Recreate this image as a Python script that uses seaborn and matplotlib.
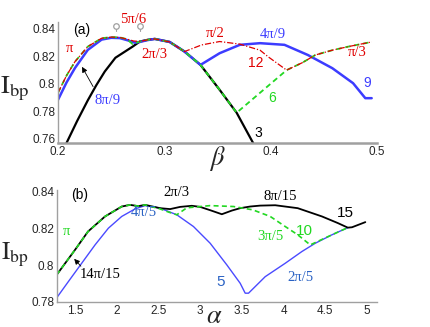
"""
Bipartite order parameter I_bp versus beta (a) and alpha (b).
"""

# =============== IMPORTS ===============
import numpy as np
import matplotlib
matplotlib.use("Agg")
import matplotlib.pyplot as plt
import seaborn as sns


# =============== DATA: PANEL (a) ===============
# curve "3" (black)
beta_3 = [0.208, 0.218, 0.228, 0.236, 0.244, 0.254, 0.262, 0.270, 0.277, 0.284,
          0.291, 0.305, 0.319, 0.334, 0.352, 0.368, 0.3835]
ibp_3 = [0.757, 0.773, 0.788, 0.799, 0.809, 0.819, 0.823, 0.827, 0.8308, 0.8320,
         0.8327, 0.8305, 0.8235, 0.8138, 0.7957, 0.779, 0.757]

# curve "6" (green dashed)
beta_6 = [0.2, 0.208, 0.216, 0.228, 0.241, 0.25, 0.258, 0.265, 0.27, 0.277, 0.284,
          0.291, 0.305, 0.319, 0.334, 0.352, 0.368, 0.415, 0.43, 0.442, 0.458,
          0.473, 0.495]
ibp_6 = [0.7935, 0.806, 0.8162, 0.8271, 0.8332, 0.834, 0.8338, 0.8325, 0.829,
         0.8308, 0.8320, 0.8327, 0.8305, 0.8235, 0.8138, 0.7957, 0.779, 0.810,
         0.8155, 0.821, 0.8245, 0.8271, 0.8305]

# curve "9" (blue)
beta_9 = [0.2, 0.208, 0.216, 0.228, 0.241, 0.25, 0.258, 0.265, 0.272, 0.277, 0.284,
          0.291, 0.305, 0.319, 0.334, 0.352, 0.371, 0.39, 0.413, 0.435, 0.458,
          0.4775, 0.489, 0.495]
ibp_9 = [0.7884, 0.801, 0.8116, 0.8247, 0.8322, 0.8335, 0.8333, 0.8318, 0.8300,
         0.8305, 0.8318, 0.8327, 0.8305, 0.8235, 0.8138, 0.8223, 0.8284, 0.8296,
         0.8284, 0.821, 0.8114, 0.8005, 0.7896, 0.7896]

# curve "12" (red dash-dot)
beta_12 = [0.2, 0.208, 0.216, 0.228, 0.241, 0.25, 0.258, 0.265, 0.271, 0.277, 0.284,
           0.291, 0.305, 0.319, 0.335, 0.352, 0.371, 0.39, 0.398, 0.415, 0.43,
           0.442, 0.458, 0.473, 0.495]
ibp_12 = [0.7935, 0.806, 0.8162, 0.8271, 0.8332, 0.834, 0.8338, 0.8325, 0.8312,
          0.8308, 0.8320, 0.8327, 0.8305, 0.8235, 0.8283, 0.8308, 0.8289, 0.8245,
          0.8195, 0.810, 0.8155, 0.821, 0.8245, 0.8271, 0.8305]

labels_a = ["(a)", "\u03c0", "5\u03c0/6", "2\u03c0/3", "8\u03c0/9", "\u03c0/2", "4\u03c0/9",
            "12", "\u03c0/3", "9", "6", "3"]
labels_a_beta = [0.2225, 0.211, 0.271, 0.291, 0.247, 0.348, 0.402, 0.386, 0.481, 0.491, 0.401, 0.388]
labels_a_ibp = [0.8395, 0.826, 0.8465, 0.821, 0.788, 0.8364, 0.8356, 0.8153, 0.8225, 0.8007, 0.7898, 0.7644]

marks_beta = [0.255, 0.277]


# =============== DATA: PANEL (b) ===============
# curve "15" (black)
alpha_15 = [1.28, 1.5, 1.656, 1.86, 2.06, 2.16, 2.26, 2.34, 2.52, 2.64, 2.76, 2.9, 3.0,
            3.12, 3.26, 3.38, 3.48, 3.6, 3.72, 3.9, 4.17, 4.46, 4.65, 4.77, 4.82, 4.98]
ibp_15 = [0.7948, 0.8084, 0.8184, 0.8266, 0.832, 0.8329, 0.8322, 0.8329, 0.8311, 0.8306,
          0.8318, 0.8324, 0.8318, 0.8300, 0.8278, 0.8298, 0.8311, 0.8320, 0.8325, 0.8327,
          0.8311, 0.8266, 0.823, 0.8205, 0.8207, 0.8235]

# curve "10" (green dashed)
alpha_10 = [1.28, 1.5, 1.656, 1.86, 2.06, 2.16, 2.26, 2.34, 2.52, 2.62, 2.72, 2.84, 3.12,
            3.4, 3.63, 3.84, 4.02, 4.17, 4.32, 4.58, 4.77]
ibp_10 = [0.7948, 0.8084, 0.8184, 0.8266, 0.832, 0.8329, 0.8322, 0.8329, 0.8307, 0.8290,
          0.8275, 0.8313, 0.8325, 0.832, 0.8302, 0.8266, 0.8211, 0.8166, 0.8111, 0.8166,
          0.8205]

# curve "5" (blue)
alpha_5 = [1.26, 1.42, 1.58, 1.74, 1.9, 2.06, 2.22, 2.34, 2.52, 2.72, 2.92, 3.12, 3.32,
           3.48, 3.54, 3.58, 3.72, 3.78, 4.02, 4.22, 4.38, 4.58, 4.77]
ibp_5 = [0.781, 0.7911, 0.8011, 0.8111, 0.8202, 0.8266, 0.8307, 0.8325, 0.8311, 0.8275,
         0.8211, 0.812, 0.8002, 0.7902, 0.7848, 0.7848, 0.7911, 0.7938, 0.8011, 0.8075,
         0.812, 0.8166, 0.8205]

labels_b = ["(b)", "2\u03c0/3", "\u03c0", "4\u03c0/5", "14\u03c0/15", "8\u03c0/15", "15",
            "10", "3\u03c0/5", "5", "2\u03c0/5"]
labels_b_alpha = [1.56, 2.72, 1.40, 2.32, 1.80, 3.96, 4.74, 4.25, 3.84, 3.24, 4.2]
labels_b_ibp = [0.8384, 0.8395, 0.8182, 0.8285, 0.7948, 0.8374, 0.8285, 0.8184, 0.8156, 0.7911, 0.7931]


# =============== STYLE ===============
sns.set_style("white")
plt.rcParams["font.family"] = ["Liberation Sans", "DejaVu Sans"]
plt.rcParams["mathtext.fontset"] = "stix"

RED = "#e00000"
GREEN = "#22d822"
BLUE = "#3c3cff"
BLUE_B = "#4a4aff"
BLUE_TXT = "#2a62c4"
GRAY = "#a0a0a0"
SERIF = ["Liberation Serif", "DejaVu Serif"]
SANS = ["Liberation Sans", "DejaVu Sans"]

fig = plt.figure(figsize=(4.31, 3.27), dpi=100)
ax_a = fig.add_axes([58 / 431, 1 - 143 / 327, 319 / 431, 121 / 327])
ax_b = fig.add_axes([57 / 431, 1 - 302 / 327, 320 / 431, 112 / 327])


def style_axes(ax):
    for side in ["top", "right"]:
        ax.spines[side].set_visible(False)
    ax.spines["left"].set_color(GRAY)
    ax.spines["left"].set_linewidth(1.0)
    ax.spines["bottom"].set_color(GRAY)
    ax.spines["bottom"].set_linewidth(1.8)
    ax.tick_params(which="both", direction="in", color=GRAY, labelsize=8.5, pad=2)
    ax.tick_params(which="major", length=4, width=1)
    ax.tick_params(which="minor", length=2.5, width=1)


# =============== PANEL (a) ===============
ax = ax_a
sns.lineplot(x=beta_3, y=ibp_3, ax=ax, sort=False, estimator=None, color="black", lw=1.6)
sns.lineplot(x=beta_9, y=ibp_9, ax=ax, sort=False, estimator=None, color=BLUE, lw=1.8)
sns.lineplot(x=beta_6, y=ibp_6, ax=ax, sort=False, estimator=None, color=GREEN, lw=1.3,
             linestyle=(0, (3, 2)))
sns.lineplot(x=beta_12, y=ibp_12, ax=ax, sort=False, estimator=None, color=RED, lw=0.9,
             linestyle=(0, (5, 1.5, 1, 1.5)))

for bx in marks_beta:
    ax.plot([bx, bx], [0.8385, 0.8408], color=GRAY, lw=0.8, clip_on=False)
    ax.plot([bx], [0.8418], marker="o", ms=4, mfc="white", mec=GRAY, mew=0.9, clip_on=False)

ax.annotate("", xy=(0.2226, 0.8124), xytext=(0.233, 0.798),
            arrowprops=dict(arrowstyle="-|>", color="black", lw=0.6, mutation_scale=8,
                            shrinkA=0, shrinkB=0))

colors_a = ["black", RED, RED, RED, BLUE, RED, BLUE, RED, RED, BLUE, GREEN, "black"]
for txt, bx, iy, c in zip(labels_a, labels_a_beta, labels_a_ibp, colors_a):
    fam = SANS if (txt[0].isdigit() and "\u03c0" not in txt) or txt.startswith("(") else SERIF
    size = 10 if fam is SANS else 10.5
    if txt.startswith("("):
        size = 10
    ax.text(bx, iy, txt, color=c, ha="center", va="center", family=fam, fontsize=size,
            clip_on=False)

ax.set_xlim(0.2, 0.5)
ax.set_ylim(0.757, 0.845)
ax.set_xticks([0.2, 0.3, 0.4, 0.5])
ax.set_xticklabels(["0.2", "0.3", "0.4", "0.5"])
ax.set_xticks(np.arange(0.2, 0.5, 0.025), minor=True)
ax.set_yticks([0.76, 0.78, 0.8, 0.82, 0.84])
ax.set_yticklabels(["0.76", "0.78", "0.8", "0.82", "0.84"])
style_axes(ax)
ax.set_xlabel(r"$\beta$", fontsize=19, va="center")
ax.xaxis.set_label_coords(0.5, -0.13)
ax.set_ylabel(r"$\mathrm{I}_{\mathrm{bp}}$", fontsize=19, rotation=0, va="center", ha="center")
ax.yaxis.set_label_coords(-0.135, 0.45)


# =============== PANEL (b) ===============
ax = ax_b
sns.lineplot(x=alpha_5, y=ibp_5, ax=ax, sort=False, estimator=None, color=BLUE_B, lw=1.0)
sns.lineplot(x=alpha_15, y=ibp_15, ax=ax, sort=False, estimator=None, color="black", lw=1.3)
sns.lineplot(x=alpha_10, y=ibp_10, ax=ax, sort=False, estimator=None, color=GREEN, lw=1.2,
             linestyle=(0, (3, 2)))

ax.annotate("", xy=(1.49, 0.8035), xytext=(1.57, 0.7995),
            arrowprops=dict(arrowstyle="-|>", color="black", lw=0.6, mutation_scale=8,
                            shrinkA=0, shrinkB=0))

colors_b = ["black", "black", GREEN, BLUE_TXT, "black", "black", "black", GREEN, GREEN,
            BLUE_TXT, BLUE_TXT]
for txt, axx, iy, c in zip(labels_b, labels_b_alpha, labels_b_ibp, colors_b):
    fam = SANS if (txt[0].isdigit() and "\u03c0" not in txt) or txt.startswith("(") else SERIF
    size = 11 if fam is SANS else 10.5
    if txt.startswith("("):
        size = 10
    ax.text(axx, iy, txt, color=c, ha="center", va="center", family=fam, fontsize=size,
            clip_on=False)

ax.set_xlim(1.284, 5.12)
ax.set_ylim(0.78, 0.841)
ax.set_xticks([1.5, 2, 2.5, 3, 3.5, 4, 4.5, 5])
ax.set_xticklabels(["1.5", "2", "2.5", "3", "3.5", "4", "4.5", "5"])
ax.set_yticks([0.78, 0.8, 0.82, 0.84])
ax.set_yticklabels(["0.78", "0.8", "0.82", "0.84"])
style_axes(ax)
ax.spines["bottom"].set_linewidth(1.0)
ax.set_xlabel(r"$\alpha$", fontsize=19, va="center")
ax.xaxis.set_label_coords(0.49, -0.125)
ax.set_ylabel(r"$\mathrm{I}_{\mathrm{bp}}$", fontsize=18, rotation=0, va="center", ha="center")
ax.yaxis.set_label_coords(-0.131, 0.42)

fig.savefig("out.png", dpi=100)
print("saved out.png")
